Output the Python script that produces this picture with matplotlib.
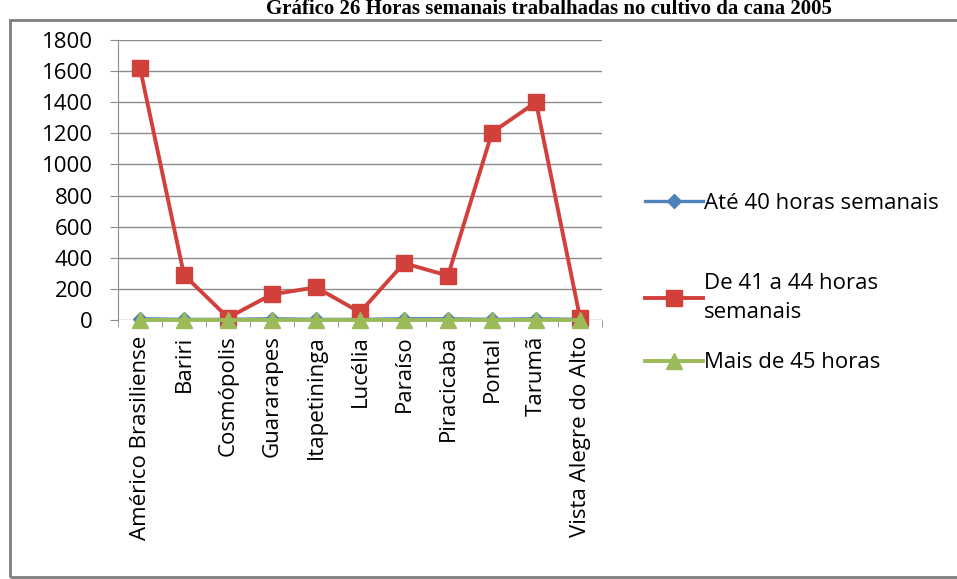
import matplotlib.pyplot as plt
import matplotlib.patches as patches
from matplotlib.legend import Legend
import numpy as np

# data
cidades = ["Américo Brasiliense", "Bariri", "Cosmópolis", "Guararapes", "Itapetininga",
           "Lucélia", "Paraíso", "Piracicaba", "Pontal", "Tarumã", "Vista Alegre do Alto"]
ate_40 = [8, 4, 4, 8, 4, 4, 8, 8, 4, 8, 4]
de_41_44 = [1620, 290, 15, 165, 210, 50, 365, 285, 1205, 1400, 15]
mais_45 = [2, 2, 2, 2, 2, 2, 2, 2, 2, 2, 2]

labels = ["Até 40 horas semanais", "De 41 a 44 horas\nsemanais", "Mais de 45 horas"]
cores = ["#4F81BD", "#D2403C", "#9BBB59"]

plt.rcParams['font.family'] = ['Open Sans', 'DejaVu Sans']
fs = 16

W, H = 957, 579
fig = plt.figure(figsize=(W / 100, H / 100), dpi=100)
ax = fig.add_axes([118 / W, 1 - 320 / H, 484 / W, 280 / H])

x = np.arange(len(cidades))
l1, = ax.plot(x, ate_40, color=cores[0], marker="D", markersize=7, lw=2.4,
              zorder=3, clip_on=False)
l2, = ax.plot(x, de_41_44, color=cores[1], marker="s", markersize=12, lw=2.8,
              zorder=4, clip_on=False)
l3, = ax.plot(x, mais_45, color=cores[2], marker="^", markersize=12, lw=2.8,
              zorder=5, clip_on=False)

ax.set_xlim(-0.5, len(cidades) - 0.5)
ax.set_ylim(0, 1800)
ax.set_yticks(range(0, 1801, 200))
ax.yaxis.grid(True, color="#8c8c8c", lw=1.0)
ax.set_axisbelow(True)
ax.tick_params(axis="y", length=6, color="#8c8c8c", labelsize=fs, pad=12)

ax.set_xticks(x)
ax.set_xticklabels(cidades, rotation=90, fontsize=fs)
ax.set_xticks(np.arange(-0.5, len(cidades), 1), minor=True)
ax.tick_params(axis="x", which="major", length=0, pad=11)
ax.tick_params(axis="x", which="minor", length=5, color="#8c8c8c")

for s in ["top", "right", "bottom"]:
    ax.spines[s].set_visible(False)
ax.spines["left"].set_color("#8c8c8c")

# one legend per series so the entries can sit where Excel put them
legend_y = [203, 298, 363]
for handle, lab, yy in zip([l1, l2, l3], labels, legend_y):
    leg = Legend(ax, [handle], [lab], loc="center left",
                 bbox_to_anchor=(645 / W, 1 - yy / H),
                 bbox_transform=fig.transFigure, frameon=False, fontsize=fs,
                 handlelength=2.6, handletextpad=0.05,
                 borderpad=0, borderaxespad=0)
    for t in leg.get_texts():
        t.set_linespacing(1.5)
    ax.add_artist(leg)

# outer frame like the pasted Excel chart
fig.add_artist(patches.Rectangle((10 / W, 2 / H), 950 / W, 1 - 22 / H, transform=fig.transFigure,
                                 fill=False, edgecolor="#7f7f7f", lw=2))

fig.text(549 / W, 1 - 14 / H, "Gráfico 26 Horas semanais trabalhadas no cultivo da cana 2005",
         family="Liberation Serif", weight="bold", fontsize=15, ha="center", va="baseline")

fig.savefig("out.png", dpi=100)
